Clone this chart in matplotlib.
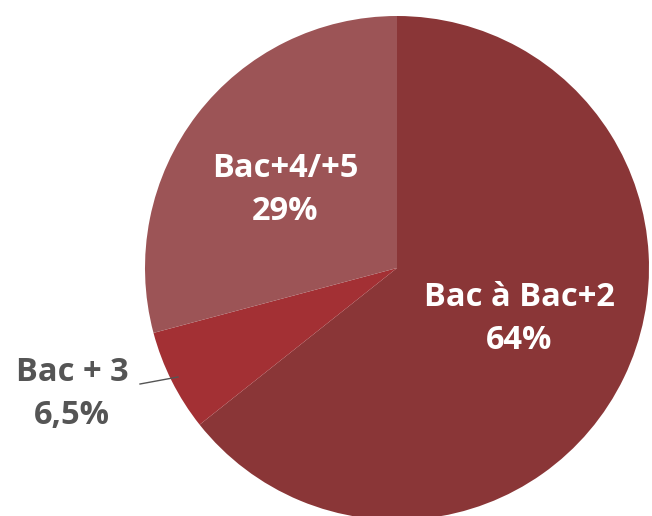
import matplotlib.pyplot as plt

labels = ["Bac à Bac+2", "Bac + 3", "Bac+4/+5"]
pct_labels = ["64%", "6,5%", "29%"]
values = [64, 6.5, 29]
colors = ["#8a3637", "#a33034", "#9c5456"]

W, H = 652, 516
fig = plt.figure(figsize=(W / 100, H / 100), dpi=100)
ax = fig.add_axes([0, 0, 1, 1])

cx, cy, r = 397, 516 - 268, 252
ax.pie(values, colors=colors, startangle=90, counterclock=False,
       center=(cx, cy), radius=r, frame=True,
       wedgeprops=dict(linewidth=0))
ax.set_xlim(0, W)
ax.set_ylim(0, H)
ax.set_aspect("equal")
ax.axis("off")

font = dict(family=["Open Sans", "DejaVu Sans"], fontweight="bold", fontsize=23.5,
            ha="center", va="center", linespacing=1.4)

ax.text(519, 516 - 319, f"{labels[0]}\n{pct_labels[0]}", color="white", **font)
ax.text(285, 516 - 190, f"{labels[2]}\n{pct_labels[2]}", color="white", **font)
ax.text(72, 516 - 394, f"{labels[1]}\n{pct_labels[1]}", color="#555555", **font)
ax.plot([140, 178], [516 - 384, 516 - 377], color="#555555", lw=1)

fig.savefig("out.png", dpi=100)
